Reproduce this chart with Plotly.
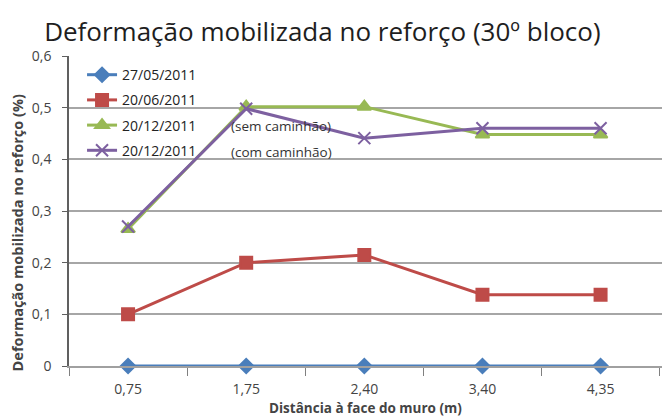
import plotly.graph_objects as go

categories = ["0,75", "1,75", "2,40", "3,40", "4,35"]
s1_name = "27/05/2011"
s1 = [0, 0, 0, 0, 0]
s2_name = "20/06/2011"
s2 = [0.10, 0.20, 0.215, 0.138, 0.138]
s3_name = "20/12/2011"
s3 = [0.265, 0.502, 0.502, 0.448, 0.448]
s4_name = "20/12/2011"
s4 = [0.27, 0.498, 0.441, 0.46, 0.46]
ytick_vals = [0, 0.1, 0.2, 0.3, 0.4, 0.5, 0.6]
ytick_text = ["0", "0,1", "0,2", "0,3", "0,4", "0,5", "0,6"]

FONT = "Open Sans"

fig = go.Figure()
specs = [
    (s1_name, s1, "#4a7ebb", "diamond", 11, "g1"),
    (s2_name, s2, "#be4b48", "square", 12, "g2"),
    (s3_name, s3, "#98b954", "triangle-up", 12, "g3"),
    (s4_name, s4, "#7d60a0", "x-thin", 12, "g4"),
]
for name, vals, col, sym, sz, grp in specs:
    fig.add_trace(go.Scatter(
        x=categories, y=vals, name=name, mode="lines+markers",
        line=dict(color=col, width=3),
        marker=dict(symbol=sym, size=sz, color=col, line=dict(color=col, width=2)),
        cliponaxis=False, legendgroup=grp,
    ))

fig.update_layout(
    width=662, height=417,
    margin=dict(l=69, r=0, t=56, b=51),
    paper_bgcolor="white", plot_bgcolor="white",
    font=dict(family=FONT, color="#333333"),
    title=dict(text="Deformação mobilizada no reforço (30º bloco)",
               x=0.487, xanchor="center", y=0.923, yanchor="middle",
               font=dict(family=FONT, size=26, color="#1e1e1e")),
    showlegend=True,
    legend=dict(x=0.022, y=0.99, xanchor="left", yanchor="top",
                bgcolor="rgba(0,0,0,0)", font=dict(size=14, color="#222222"),
                tracegroupgap=4, traceorder="grouped"),
    xaxis=dict(type="category", range=[-0.5, 4.52], showgrid=False,
               showline=True, linecolor="#a0a0a0", linewidth=2,
               ticks="outside", tickson="boundaries", ticklen=8,
               tickcolor="#808080", ticklabelstandoff=9,
               tickfont=dict(size=14, color="#444444")),
    yaxis=dict(range=[0, 0.6], tickvals=ytick_vals, ticktext=ytick_text,
               showgrid=True, gridcolor="#a6a6a6", gridwidth=2,
               showline=True, linecolor="#606060", linewidth=1.5,
               ticks="outside", ticklen=5, tickcolor="#606060",
               ticklabelstandoff=8,
               tickfont=dict(size=14, color="#444444"), zeroline=False),
)
fig.add_annotation(text="<b>Deformação mobilizada no reforço (%)</b>",
                   xref="paper", yref="paper", x=-0.087, y=0.429,
                   xanchor="center", yanchor="middle",
                   textangle=-90, showarrow=False,
                   font=dict(size=14.5, color="#444444"))
fig.add_annotation(text="<b>Distância à face do muro (m)</b>",
                   xref="paper", yref="paper", x=0.5, y=-0.135,
                   xanchor="center", yanchor="middle",
                   showarrow=False, font=dict(size=13.5, color="#444444"))
fig.add_annotation(text="(sem caminhão)", xref="paper", yref="paper",
                   x=0.357, y=0.774, xanchor="center", yanchor="middle",
                   showarrow=False, font=dict(size=13.5, color="#333333"))
fig.add_annotation(text="(com caminhão)", xref="paper", yref="paper",
                   x=0.358, y=0.69, xanchor="center", yanchor="middle",
                   showarrow=False, font=dict(size=13.5, color="#333333"))
fig.write_html("out.html", config={"displayModeBar": False},
               post_script="document.body.style.margin='0';")
